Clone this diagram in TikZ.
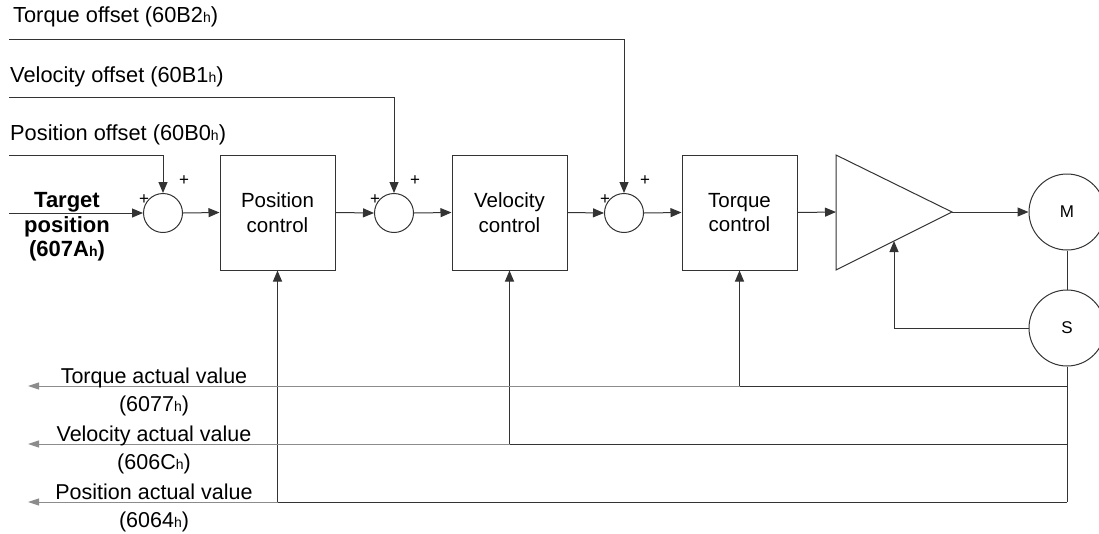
\documentclass[tikz,border=0pt]{standalone}
\usepackage{fontspec}
\setmainfont{Liberation Sans}
\usetikzlibrary{arrows.meta}

\newcommand{\hsub}{{\fontsize{14}{14}\selectfont h}}

\begin{document}
\begin{tikzpicture}[
                x=1pt, y=-1pt,
                font=\fontsize{20.5}{24.5}\selectfont,
                conn/.style = {draw=black!80, line width=1pt},
                arr/.style = {conn, -{Triangle[length=11pt,width=9pt]}},
                outarr/.style = {draw=black!45, line width=1pt, -{Triangle[length=11pt,width=7pt]}},
                ctrlbox/.style = {rectangle, draw=black!80, line width=1pt, minimum width=115pt, minimum height=115pt, align=center},
                sumnode/.style = {circle, draw=black!80, line width=1pt, minimum size=39pt, inner sep=0pt},
                machnode/.style = {circle, draw=black!80, line width=1pt, minimum size=76pt, inner sep=0pt, font=\fontsize{17}{17}\selectfont},
                sign/.style = {inner sep=0pt, font=\fontsize{17}{17}\selectfont},
                txt/.style = {inner sep=0pt, anchor=west, font=\fontsize{21.8}{24.5}\selectfont},
                actlbl/.style = {inner sep=0pt, align=center, font=\fontsize{21.5}{27.5}\selectfont}
        ]
        \useasboundingbox (0,0) rectangle (1099,533);

        % summing points and controllers
        \node[sumnode] (sum1) at (163,213) {};
        \node[ctrlbox] (pos) at (277.5,212.5) {Position\\control};
        \node[sumnode] (sum2) at (394,213) {};
        \node[ctrlbox] (vel) at (509.5,212.5) {Velocity\\control};
        \node[sumnode] (sum3) at (624,213) {};
        \node[ctrlbox] (torq) at (739.5,212.5) {Torque\\control};

        % amplifier, motor and sensor
        \coordinate (ampTop) at (836,155);
        \coordinate (ampBot) at (836,270);
        \coordinate (ampOut) at (952,212);
        \coordinate (ampIn) at (836,212);
        \coordinate (ampFb) at (894,241);
        \draw[conn] (ampTop) -- (ampOut) -- (ampBot) -- cycle;
        \node[machnode] (M) at (1067,212) {M};
        \node[machnode] (S) at (1067,328) {S};

        % signs
        \foreach \s in {sum1,sum2,sum3} {
                \node[sign] at ([xshift=-19pt,yshift=13pt]\s.center) {+};
                \node[sign] at ([xshift=21pt,yshift=32pt]\s.center) {+};
        }

        % inputs
        \node[txt] (lblTqOff) at (13,17) {Torque offset (60B2\hsub)};
        \node[txt] (lblVelOff) at (10,77) {Velocity offset (60B1\hsub)};
        \node[txt] (lblPosOff) at (10,135) {Position offset (60B0\hsub)};
        \node[inner sep=0pt, align=center, font=\fontsize{22}{24.5}\selectfont\bfseries] (lblTgt) at (67,227) {Target\\position\\(607A\hsub)};
        \coordinate (inTqOff) at (9,39);
        \coordinate (inVelOff) at (9,97);
        \coordinate (inPosOff) at (9,155);
        \coordinate (inTgt) at (9,213);

        \draw[arr] (inTqOff) -| (sum3.north);
        \draw[arr] (inVelOff) -| (sum2.north);
        \draw[arr] (inPosOff) -| (sum1.north);
        \draw[arr] (inTgt) -- (sum1.west);

        % forward path
        \draw[arr] (sum1.east) -- (pos.west);
        \draw[arr] (pos.east) -- (sum2.west);
        \draw[arr] (sum2.east) -- (vel.west);
        \draw[arr] (vel.east) -- (sum3.west);
        \draw[arr] (sum3.east) -- (torq.west);
        \draw[arr] (torq.east) -- (ampIn);
        \draw[arr] (ampOut) -- (M.west);
        \draw[conn] (M.south) -- (S.north);
        \draw[arr] (S.west) -| (ampFb);

        % feedback
        \coordinate (fbT) at (1067,386);
        \coordinate (fbV) at (1067,444);
        \coordinate (fbP) at (1067,502);
        \draw[conn] (S.south) -- (fbP);
        \draw[arr] (fbT) -| (torq.south);
        \draw[arr] (fbV) -| (vel.south);
        \draw[arr] (fbP) -| (pos.south);

        % actual values
        \coordinate (outT) at (28,386);
        \coordinate (outV) at (28,444);
        \coordinate (outP) at (28,502);
        \draw[outarr] (torq.south |- fbT) -- (outT);
        \draw[outarr] (vel.south |- fbV) -- (outV);
        \draw[outarr] (pos.south |- fbP) -- (outP);
        \node[actlbl] (lblTqAct) at (154,392) {Torque actual value\\(6077\hsub)};
        \node[actlbl] (lblVelAct) at (154,450) {Velocity actual value\\(606C\hsub)};
        \node[actlbl] (lblPosAct) at (154,508) {Position actual value\\(6064\hsub)};
\end{tikzpicture}
\end{document}
